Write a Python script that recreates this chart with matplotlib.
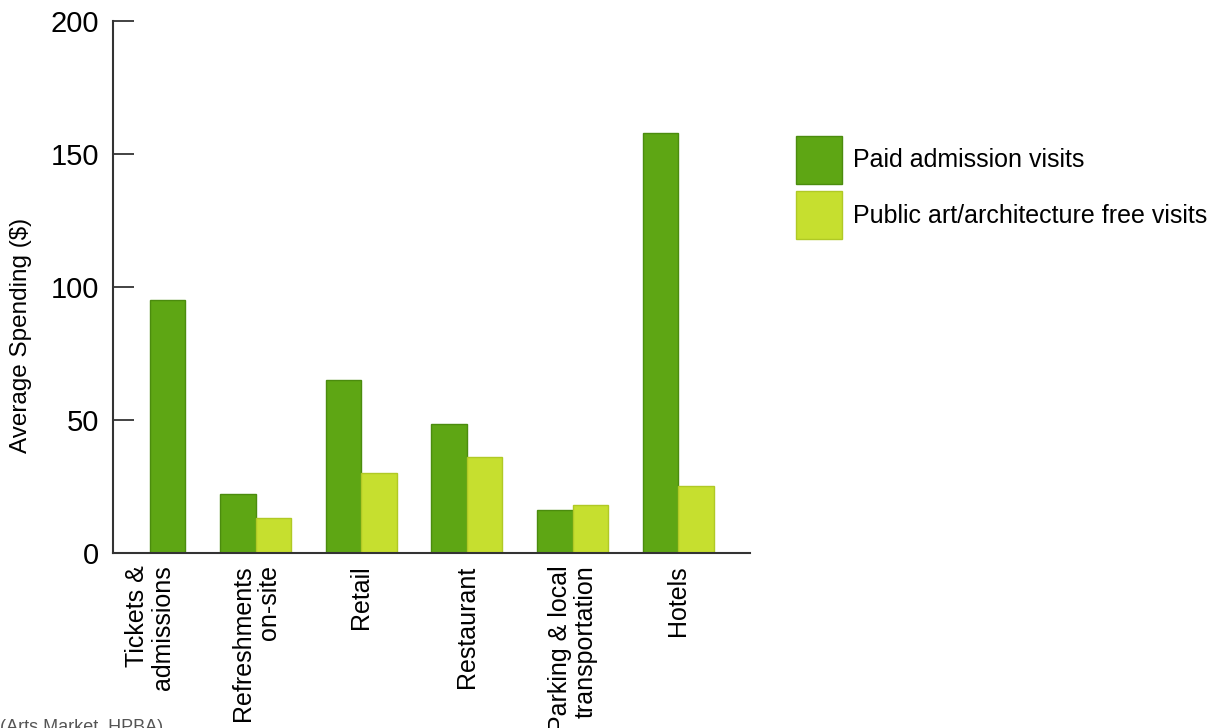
import numpy as np
import matplotlib
matplotlib.use("Agg")
import matplotlib.pyplot as plt

categories = ["Tickets &\nadmissions", "Refreshments\non-site", "Retail",
              "Restaurant", "Parking & local\ntransportation", "Hotels"]
paid = [95, 22, 65, 48.5, 16, 158]
free = [0, 13, 30, 36, 18, 25]
series_names = ["Paid admission visits", "Public art/architecture free visits"]

plt.rcParams['font.family'] = ['Liberation Sans', 'DejaVu Sans']

fig = plt.figure(figsize=(12.16, 7.28), dpi=100)
ax = fig.add_axes([0.0929, 0.2404, 0.5239, 0.7308])

x = np.arange(len(categories))
w = 0.335
free_arr = np.array(free)
# a category with no free-visit bar gets its paid bar in the second slot
paid_left = np.where(free_arr > 0, x - w, x)

ax.bar(paid_left, paid, width=w, align='edge', color='#5ea614',
       edgecolor='#4b8c0e', linewidth=1, label=series_names[0])
ax.bar(x, free, width=w, align='edge', color='#c6df2f',
       edgecolor='#b0c925', linewidth=1, label=series_names[1])

ax.set_xlim(-0.35, 5.68)
ax.set_ylim(0, 200)
ax.set_yticks([0, 50, 100, 150, 200])
ax.tick_params(axis='y', direction='in', length=15, width=1.2, pad=10,
               labelsize=21, color='#222')
ax.set_xticks(x)
ax.set_xticklabels(categories, rotation=90, fontsize=18, va='top',
                   ha='center', multialignment='right', linespacing=1.1)
ax.tick_params(axis='x', length=0, pad=9)
for s in ['top', 'right']:
    ax.spines[s].set_visible(False)
for s in ['left', 'bottom']:
    ax.spines[s].set_color('#333')
    ax.spines[s].set_linewidth(1.5)
ax.set_ylabel("Average Spending ($)", fontsize=17.5)
ax.yaxis.set_label_coords(-0.127, 0.408)

fig.legend(loc='upper left', bbox_to_anchor=(0.646, 0.8275), frameon=False,
           fontsize=18, handlelength=1.84, handleheight=2.58,
           handletextpad=0.45, labelspacing=0.3, borderaxespad=0)

fig.text(0.0, 0.0, "(Arts Market, HPBA)", fontsize=13, color='#555',
         va='center', ha='left')

fig.savefig("out.png", dpi=100)
